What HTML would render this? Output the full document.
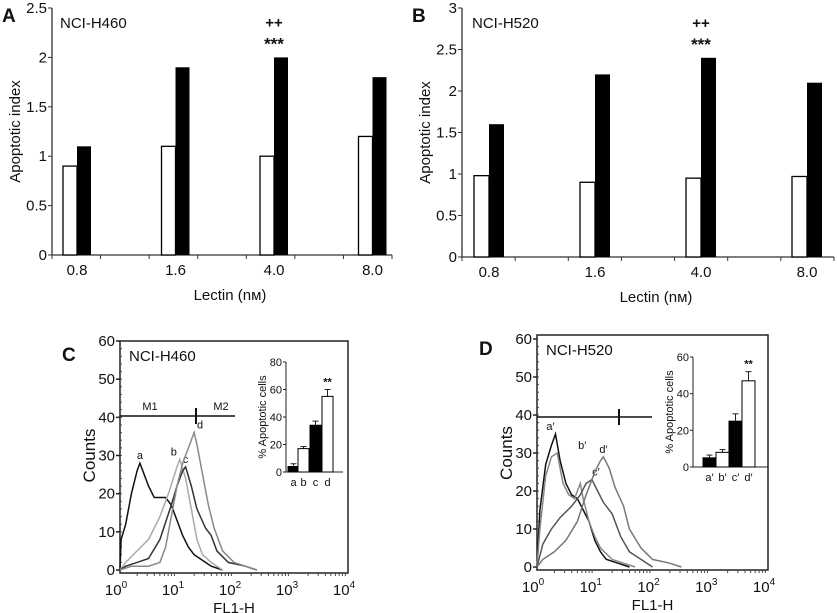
<!DOCTYPE html>
<html><head><meta charset="utf-8"><style>
html,body{margin:0;padding:0;background:#fff}
svg{display:block;font-family:"Liberation Sans",Arial,sans-serif}
</style></head><body>
<svg id="fig" width="837" height="613" viewBox="0 0 837 613"></svg>
<script>
// ---- data ----
const lectinCats = ["0.8","1.6","4.0","8.0"];
const aWhite = [0.9,1.1,1.0,1.2];
const aBlack = [1.1,1.9,2.0,1.8];
const bWhite = [0.98,0.9,0.95,0.97];
const bBlack = [1.6,2.2,2.4,2.1];
const aTicks = [0,0.5,1,1.5,2,2.5];
const bTicks = [0,0.5,1,1.5,2,2.5,3];
const insetCats = ["a","b","c","d"];
const insetC = [4,17,34,55];
const insetCErr = [6,18.5,37,60];
const insetDCats = ["a′","b′","c′","d′"];
const insetD = [5,8,25,47];
const insetDErr = [6.5,9.5,29,52];
const countTicks = [0,10,20,30,40,50,60];
const histCa_x = [0,0.02,0.1,0.2,0.3,0.35,0.4,0.5,0.6,0.7,0.8,0.9,1.0,1.1,1.2,1.3,1.4,1.5,1.6,1.8];
const histCa_y = [0,8,12,20,26,28,26,22,19,19,19,17,13,9,6,4,3,2,1,0];
const histCb_x = [0,0.1,0.3,0.5,0.7,0.85,1.0,1.05,1.15,1.25,1.35,1.45,1.6,1.8];
const histCb_y = [0,2,5,8,14,20,27,29,24,16,8,4,2,0];
const histCc_x = [0,0.1,0.3,0.5,0.7,0.9,1.0,1.1,1.15,1.25,1.35,1.5,1.6,1.7,1.9,2.2,2.4];
const histCc_y = [0,1,2,3,8,17,22,26,27,22,16,11,9,5,2,1,0];
const histCd_x = [0,0.2,0.5,0.7,0.8,0.9,1.0,1.1,1.2,1.3,1.35,1.45,1.55,1.65,1.8,2.0,2.2,2.4];
const histCd_y = [0,1,1,2,6,14,22,28,32,36,33,25,17,11,5,2,1,0];
const histDa_x = [0,0.05,0.15,0.25,0.32,0.4,0.5,0.6,0.7,0.8,0.9,1.0,1.1,1.2,1.4,1.6];
const histDa_y = [0,15,27,32,35,28,22,19,18,15,12,7,4,2,1,0];
const histDb_x = [0,0.05,0.15,0.25,0.35,0.45,0.55,0.65,0.75,0.8,0.9,1.0,1.1,1.3,1.5,1.7];
const histDb_y = [0,10,24,29,30,22,19,18,22,18,12,8,5,2,1,0];
const histDc_x = [0,0.1,0.25,0.4,0.6,0.75,0.85,0.95,1.05,1.15,1.3,1.45,1.6,1.8,2.0];
const histDc_y = [0,6,10,13,16,19,22,23,20,17,14,8,4,2,0];
const histDd_x = [0,0.1,0.3,0.5,0.7,0.85,1.0,1.1,1.15,1.25,1.35,1.5,1.6,1.8,2.0,2.3,2.5];
const histDd_y = [0,2,4,7,12,19,25,28,29,26,21,16,10,5,2,1,0];

const svg = document.getElementById('fig');
const NS = 'http://www.w3.org/2000/svg';
function mk(tag, attrs, parent, text){
  const e = document.createElementNS(NS, tag);
  for (const k in attrs) e.setAttribute(k, attrs[k]);
  if (text !== undefined) e.textContent = text;
  (parent||svg).appendChild(e);
  return e;
}
function txt(x,y,s,size,anchor,parent,extra){
  const t = mk('text',Object.assign({x:x,y:y,'font-size':size,'text-anchor':anchor||'middle',fill:'#111'},extra||{}),parent,s);
  return t;
}

// ---- bar panels ----
function barPanel(o){
  const g = mk('g',{});
  
  
  const y = v => o.y0 - (v/o.ymax)*(o.y0-o.y1);
  mk('line',{x1:o.ax,y1:o.y1,x2:o.ax,y2:o.y0,stroke:'#333','stroke-width':1.3},g);
  mk('line',{x1:o.ax,y1:o.y0,x2:o.xr,y2:o.y0,stroke:'#333','stroke-width':1.3},g);
  o.ticks.forEach(t=>{
    mk('line',{x1:o.ax-4,y1:y(t),x2:o.ax,y2:y(t),stroke:'#333'},g);
    txt(o.ax-5,y(t)+5,String(t),15,'end',g);
  });
  const step=(o.xr-o.ax)/7;
  for(let i=0;i<8;i++){ mk('line',{x1:o.ax+i*step,y1:o.y0,x2:o.ax+i*step,y2:o.y0+4,stroke:'#333'},g); }
  lectinCats.forEach((c,i)=>{
    const cx = o.c0 + i*o.cstep;
    const w = mk('rect',{x:cx-o.bw,y:y(o.white[i]),width:o.bw,height:o.y0-y(o.white[i]),fill:'#fff',stroke:'#000','stroke-width':1.3},g);
    
    
    const b = mk('rect',{x:cx,y:y(o.black[i]),width:o.bw,height:o.y0-y(o.black[i]),fill:'#000'},g);
    
    
    txt(cx,o.y0+20,c,15,'middle',g);
    if(i===2){
      txt(cx,y(o.black[i])-30,'++',15,'middle',g,{'font-weight':'bold'});
      txt(cx,y(o.black[i])-8,'***',17,'middle',g,{'font-weight':'bold'});
    }
  });
  txt(o.ax+o.lx,28,o.cell,15,'start',g);
  txt((o.ax+o.xr)/2+8,o.y0+45,'Lectin (nм)',15,'middle',g);
  mk('text',{x:0,y:0,transform:`translate(${o.ax-32},${(o.y0+o.y1)/2}) rotate(-90)`,'font-size':15,'text-anchor':'middle',fill:'#111'},g,'Apoptotic index');
  txt(o.letX,22,o.letter,19,'start',g,{'font-weight':'bold'});
}
barPanel({name:'panel-a',ax:52,xr:392,y0:255,y1:8,ymax:2.5,ticks:aTicks,white:aWhite,black:aBlack,c0:77,cstep:98.5,bw:14,cell:'NCI-H460',lx:8,letter:'A',letX:2});
barPanel({name:'panel-b',ax:462,xr:834,y0:257,y1:8,ymax:3,ticks:bTicks,white:bWhite,black:bBlack,c0:489,cstep:106,bw:15,cell:'NCI-H520',lx:10,letter:'B',letX:412});

// ---- flow panels ----
function flowPanel(o){
  const g = mk('g',{});
  
  
  const X = l => o.x0 + l*(o.x1-o.x0)/4;
  const Y = v => o.y0 - v*(o.y0-o.y60)/60;
  mk('rect',{x:o.x0,y:o.top,width:o.x1-o.x0,height:o.y0+3-o.top,fill:'none',stroke:'#222','stroke-width':1.5},g);
  countTicks.forEach(t=>{
    mk('line',{x1:o.x0-4,y1:Y(t),x2:o.x0,y2:Y(t),stroke:'#222','stroke-width':1.5},g);
    txt(o.x0-5,Y(t)+5,String(t),15,'end',g);
  });
  for(let v=2;v<60;v+=2){ mk('line',{x1:o.x0,y1:Y(v),x2:o.x0+2,y2:Y(v),stroke:'#444'},g); }
  for(let d=0;d<=4;d++){
    const lab = txt(X(d)-4,o.y0+25,'10',15,'middle',g);
    mk('tspan',{'font-size':10,dy:-7},lab,String(d));
    if(d<4) for(let k=2;k<10;k++){ mk('line',{x1:X(d+Math.log10(k)),y1:o.y0+3,x2:X(d+Math.log10(k)),y2:o.y0+6,stroke:'#444'},g); }
  }
  txt((o.x0+o.x1)/2,o.y0+43,'FL1-H',15,'middle',g);
  mk('text',{x:0,y:0,transform:`translate(${o.x0-25},${(o.y0+o.y60)/2}) rotate(-90)`,'font-size':17,'text-anchor':'middle',fill:'#111'},g,'Counts');
  txt(o.x0-58,o.top+20,o.letter,19,'start',g,{'font-weight':'bold'});
  txt(o.x0+9,o.top+20,o.cell,15,'start',g);
  // marker
  mk('line',{x1:o.x0,y1:o.my,x2:o.mx2,y2:o.my,stroke:'#111','stroke-width':1.5},g);
  mk('line',{x1:o.mt,y1:o.my-8,x2:o.mt,y2:o.my+8,stroke:'#111','stroke-width':2},g);
  if(o.m){ txt(o.x0+30,o.my-6,'M1',11,'middle',g); txt(o.mt+25,o.my-6,'M2',11,'middle',g); }
  // histograms
  o.hists.forEach((h,i)=>{
    const pts = h.x.map((l,j)=>X(l).toFixed(1)+','+Y(h.y[j]).toFixed(1)).join(' ');
    const p = mk('polyline',{points:pts,fill:'none',stroke:h.c,'stroke-width':1.5},g);
    
    
    let mi=0; h.y.forEach((v,j)=>{ if(v>h.y[mi]) mi=j; });
    txt(X(h.x[mi])+h.lo,Y(h.y[mi])-4,h.n,11,'middle',g);
  });
  // inset
  const ig = mk('g',{},g);
  
  
  const IY = v => o.iy0 - v*(o.iy0-o.iyT)/o.imax;
  mk('line',{x1:o.ix,y1:o.iyT,x2:o.ix,y2:o.iy0,stroke:'#222'},ig);
  mk('line',{x1:o.ix,y1:o.iy0,x2:o.ixr,y2:o.iy0,stroke:'#222'},ig);
  for(let t=0;t<=o.imax;t+=20){
    mk('line',{x1:o.ix-3,y1:IY(t),x2:o.ix,y2:IY(t),stroke:'#222'},ig);
    txt(o.ix-4,IY(t)+4,String(t),11,'end',ig);
  }
  mk('text',{x:0,y:0,transform:`translate(${o.ix-20},${(o.iy0+o.iyT)/2}) rotate(-90)`,'font-size':11,'text-anchor':'middle',fill:'#111'},ig,'% Apoptotic cells');
  o.ivals.forEach((v,i)=>{
    const bx = o.ib[i];
    const fill = o.ifill[i];
    mk('line',{x1:bx+o.ibw/2,y1:IY(o.ierr[i]),x2:bx+o.ibw/2,y2:IY(v),stroke:'#222'},ig);
    mk('line',{x1:bx+o.ibw/2-3,y1:IY(o.ierr[i]),x2:bx+o.ibw/2+3,y2:IY(o.ierr[i]),stroke:'#222'},ig);
    const r = mk('rect',{x:bx,y:IY(v),width:o.ibw,height:o.iy0-IY(v),fill:fill,stroke:'#000'},ig);
    
    
    txt(bx+o.ibw/2,o.iy0+14,o.icats[i],11,'middle',ig);
  });
  txt(o.ib[3]+o.ibw/2,IY(o.ierr[3])-4,'**',11,'middle',ig,{'font-weight':'bold'});
}
flowPanel({name:'panel-c',x0:120,x1:348,top:341,y0:570,y60:341,letter:'C',cell:'NCI-H460',
  my:416,mx2:235,mt:196,m:true,
  hists:[{x:histCa_x,y:histCa_y,c:'#111',n:'a',lo:0},{x:histCb_x,y:histCb_y,c:'#aaa',n:'b',lo:-6},
         {x:histCc_x,y:histCc_y,c:'#333',n:'c',lo:0},{x:histCd_x,y:histCd_y,c:'#888',n:'d',lo:6}],
  ix:286,ixr:343,iy0:472,iyT:362,imax:80,ivals:insetC,ierr:insetCErr,icats:insetCats,ib:[288,298,310,322],ibw:11,
  ifill:['#000','#fff','#000','#fff']});
flowPanel({name:'panel-d',x0:537,x1:768,top:335,y0:567,y60:339,letter:'D',cell:'NCI-H520',
  my:417,mx2:652,mt:619,m:false,
  hists:[{x:histDa_x,y:histDa_y,c:'#111',n:'a′',lo:-5},{x:histDb_x,y:histDb_y,c:'#888',n:'b′',lo:25},
         {x:histDc_x,y:histDc_y,c:'#555',n:'c′',lo:4},{x:histDd_x,y:histDd_y,c:'#777',n:'d′',lo:0}],
  ix:693,ixr:768,iy0:467,iyT:357,imax:60,ivals:insetD,ierr:insetDErr,icats:insetDCats,ib:[703,716,729,742],ibw:13,
  ifill:['#000','#fff','#000','#fff']});
</script>
</body></html>
